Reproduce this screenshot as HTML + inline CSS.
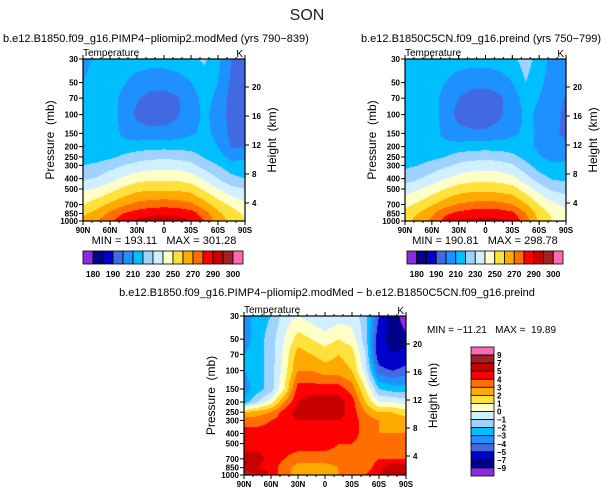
<!DOCTYPE html>
<html><head><meta charset="utf-8">
<style>
html,body{margin:0;padding:0;background:#fff;}
#wrap{position:relative;width:615px;height:496px;overflow:hidden;font-family:"Liberation Sans",sans-serif;}
canvas{position:absolute;}
svg{position:absolute;left:0;top:0;}
text{white-space:pre;}
</style></head>
<body>
<div id="wrap">
<canvas id="c0" width="162" height="162" style="left:83px;top:59px"></canvas>
<canvas id="c1" width="161" height="162" style="left:405px;top:59px"></canvas>
<canvas id="c2" width="162" height="159" style="left:244px;top:316px"></canvas>
<svg id="sv" width="615" height="496"></svg>
</div>
<script>
// ---- data ----
const LATS = ['90N','75N','60N','45N','30N','15N','0','15S','30S','45S','60S','75S','90S'];
const PLEVS = [30,50,70,100,150,200,250,300,400,500,700,850,1000];
const X_TICK_LABELS = ['90N','60N','30N','0','30S','60S','90S'];
const P_TICK_LABELS = [30,50,70,100,150,200,250,300,400,500,700,850,1000];
const Z_TICK_LABELS = [20,16,12,8,4];
const COLORS = ['#8a2be2','#00008b','#0000cd','#4169e1','#1e90ff','#00bfff','#a0d2ff','#d1f0ff','#ffffc8','#ffe13c','#ffaa00','#ff6e00','#ff0000','#c80000','#a02323','#ff69b4'];
const TEMP_LEVELS = [180,185,190,200,210,220,230,240,250,260,270,280,290,295,300];
const DIFF_LEVELS = [-9,-7,-5,-4,-3,-2,-1,0,1,2,3,4,5,7,9];
const TEMP_BAR_LABELS = ['180','190','210','230','250','270','290','300'];
const DIFF_BAR_LABELS = ['9','7','5','4','3','2','1','0','\u22121','\u22122','\u22123','\u22124','\u22125','\u22127','\u22129'];
const MODMED = [
[207,210,213,214,214,209,215,220,228,238,250,258,263],
[212,214,215,215,215,214,216,222,231,241,255,264,270],
[215,215,215,215,215,215,218,226,236,246,262,272,278],
[215,211,207,206,208,214,222,230,242,252,268,280,287],
[215,206,201,198,204,215,226,233,246,257,273,285,292],
[214,204,197,195,203,217,227,236,248,258,275,288,294],
[214,204,196,195,203,217,228,236,248,258,276,289,295],
[215,206,199,199,205,217,227,236,248,258,275,288,294],
[217,210,206,205,209,216,225,233,245,256,272,285,290],
[222,215,213,212,212,214,219,226,238,248,264,274,280],
[212,210,208,206,208,210,214,220,230,240,255,262,265],
[200,198,196,196,197,199,207,214,223,233,248,255,258],
[198,197,196,196,197,200,208,213,220,230,242,248,250]];
const PREIND = [
[212,214,214,214,213,212,214,218,225,235,247,254,257],
[213,214,215,215,214,214,215,220,229,239,252,260,264],
[215,215,215,215,215,214,217,224,234,244,259,268,273],
[215,210,206,205,207,213,220,228,240,250,266,278,284],
[215,205,200,197,203,214,225,232,244,255,271,283,290],
[214,203,196,194,202,216,226,235,246,257,273,286,292],
[214,203,195,194,202,216,227,235,247,257,274,287,293],
[215,205,198,198,204,216,226,235,246,256,273,286,292],
[217,210,205,204,208,215,223,231,243,254,270,283,288],
[225,220,214,212,212,213,217,223,234,245,261,270,276],
[215,212,210,208,209,208,211,215,225,235,250,256,258],
[207,206,205,203,202,203,207,212,219,228,242,248,250],
[206,205,199,198,198,202,208,212,218,226,238,243,244]];
const DIFF = [
[-3.5,-3.5,-3,-3,-3.5,-2.5,2,3.5,4.5,4.5,5.5,5.5,9.5],
[-2.5,-2.5,-2.5,-2.5,-2.5,-1,2.5,3.5,4.5,4.5,5.5,5,7],
[-2,-1.5,-1.5,-1.5,-1.5,0.5,3,4,4.5,4.5,4.5,4.5,4.5],
[-0.5,0,0.3,0.5,1,3,4.5,4.5,4.5,4.5,4,3.5,3.5],
[0,1.5,2.5,3,4.5,5,5.5,5,4.5,4.5,3.5,2.5,2.5],
[-0.5,1,2,3,4.5,5.5,5.5,5,4.5,4.5,3.5,2.5,2],
[-1,0.5,1.5,2.5,4.5,5.5,5.5,5,4.5,4.5,3.5,2.5,2.5],
[-0.5,1,2,2.5,4.5,5.5,5.5,5,4.5,4,3.5,3,3],
[-0.5,0.5,1.5,2,3.5,4.5,4.5,4.5,4.5,4,3.5,3.5,3.5],
[-1.5,-1.5,-1,-0.5,1,2,3,3.5,3.5,3.5,3.5,3.5,4],
[-5,-6,-6,-4.5,-2,0,2,3,3,3.5,4,4.5,5],
[-8,-8,-7,-5,-2.5,0,2,2.5,3,3.5,4,6,7],
[-10,-8.5,-6,-4.5,-2.5,-0.5,1.5,2.5,3,3.5,4,5.5,7]];

// ---- helpers ----
const NS='http://www.w3.org/2000/svg';
const sv=document.getElementById('sv');
function mk(tag,attrs,txt){const e=document.createElementNS(NS,tag);for(const k in attrs)e.setAttribute(k,attrs[k]);if(txt!==undefined)e.textContent=txt;sv.appendChild(e);return e;}
function hex(c){return [parseInt(c.substr(1,2),16),parseInt(c.substr(3,2),16),parseInt(c.substr(5,2),16)];}
const RGB=COLORS.map(hex);
const LP0=Math.log(PLEVS[0]),LP1=Math.log(PLEVS[PLEVS.length-1]);
function yOfP(p,P){return P.y+(Math.log(p)-LP0)/(LP1-LP0)*P.h;}
function xOfLat(i,n,P){return P.x+i/(n-1)*P.w;}
function colorIdx(v,levels){let k=0;while(k<levels.length&&v>=levels[k])k++;return k;}

function drawField(id,grid,levels,P){
  const cv=document.getElementById(id),ctx=cv.getContext('2d');
  const W=cv.width,H=cv.height,img=ctx.createImageData(W,H);
  const nl=grid.length,np=PLEVS.length;
  for(let py=0;py<H;py++){
    const lp=LP0+(py+0.5)/H*(LP1-LP0);
    let k=0;while(k<np-2&&Math.log(PLEVS[k+1])<lp)k++;
    const t=Math.min(1,Math.max(0,(lp-Math.log(PLEVS[k]))/(Math.log(PLEVS[k+1])-Math.log(PLEVS[k]))));
    for(let px=0;px<W;px++){
      const fx=(px+0.5)/W*(nl-1);let i=Math.min(nl-2,Math.floor(fx));const s=fx-i;
      const v=(1-s)*((1-t)*grid[i][k]+t*grid[i][k+1])+s*((1-t)*grid[i+1][k]+t*grid[i+1][k+1]);
      const c=RGB[colorIdx(v,levels)],o=(py*W+px)*4;
      img.data[o]=c[0];img.data[o+1]=c[1];img.data[o+2]=c[2];img.data[o+3]=255;
    }
  }
  ctx.putImageData(img,0,0);
}

function drawAxes(P,pre,z0,zstep){
  let e=mk('rect',{x:P.x,y:P.y,width:P.w,height:P.h,fill:'none',stroke:'#000','stroke-width':1.2});
  
  
  e=mk('text',{x:P.x,y:P.y-3,'font-size':10},'Temperature');
  
  
  e=mk('text',{x:P.x+P.w-2,y:P.y-2,'font-size':10,'text-anchor':'end'},'K');
  
  
  P_TICK_LABELS.forEach(p=>{
    const y=yOfP(p,P);
    let t=mk('line',{x1:P.x-4,x2:P.x,y1:y,y2:y,stroke:'#000'});
    
    
    t=mk('text',{x:P.x-5,y:y+3,'font-size':8,'text-anchor':'end','font-weight':'bold'},String(p));
    
    
  });
  X_TICK_LABELS.forEach((l,i)=>{
    const x=xOfLat(i,X_TICK_LABELS.length,P);
    let t=mk('line',{x1:x,x2:x,y1:P.y+P.h,y2:P.y+P.h+4,stroke:'#000'});
    
    
    t=mk('line',{x1:x,x2:x,y1:P.y-4,y2:P.y,stroke:'#000'});
    
    
    t=mk('text',{x:x,y:P.y+P.h+12,'font-size':8,'text-anchor':'middle','font-weight':'bold'},l);
    
    
  });
  for(let i=0;i<=18;i++){const x=P.x+i/18*P.w;
    let t=mk('line',{x1:x,x2:x,y1:P.y+P.h,y2:P.y+P.h+2,stroke:'#000'});
    
    
    t=mk('line',{x1:x,x2:x,y1:P.y-2,y2:P.y,stroke:'#000'});
    
    }
  Z_TICK_LABELS.forEach((z,i)=>{
    const y=z0+i*zstep;
    let t=mk('line',{x1:P.x+P.w,x2:P.x+P.w+4,y1:y,y2:y,stroke:'#000'});
    
    
    t=mk('text',{x:P.x+P.w+7,y:y+3,'font-size':8,'font-weight':'bold'},String(z));
    
    
  });
  const cy=P.y+P.h/2;
  e=mk('text',{x:0,y:0,'font-size':12,'text-anchor':'middle',transform:`translate(${P.x-29},${cy}) rotate(-90)`},'Pressure  (mb)');
  
  
  e=mk('text',{x:0,y:0,'font-size':12,'text-anchor':'middle',transform:`translate(${P.x+P.w+31},${cy}) rotate(-90)`},'Height  (km)');
  
  
}

// ---- plots ----
const P0={x:83,y:59,w:162,h:162},P1={x:405,y:59,w:161,h:162},P2={x:244,y:316,w:162,h:159};
drawField('c0',MODMED,TEMP_LEVELS,P0);
drawField('c1',PREIND,TEMP_LEVELS,P1);
drawField('c2',DIFF,DIFF_LEVELS,P2);
drawAxes(P0,'modmed',87,29);
drawAxes(P1,'preind',87,29);
drawAxes(P2,'diff',344,28);

let e=mk('text',{x:307,y:20,'font-size':16,'text-anchor':'middle','fill':'#222'},'SON');


e=mk('text',{x:3,y:42,'font-size':11},'b.e12.B1850.f09_g16.PIMP4\u2212pliomip2.modMed (yrs 790\u2212839)');


e=mk('text',{x:361,y:42,'font-size':11},'b.e12.B1850C5CN.f09_g16.preind (yrs 750\u2212799)');


e=mk('text',{x:327,y:296,'font-size':11,'text-anchor':'middle'},'b.e12.B1850.f09_g16.PIMP4\u2212pliomip2.modMed \u2212 b.e12.B1850C5CN.f09_g16.preind');


e=mk('text',{x:164,y:244,'font-size':11,'text-anchor':'middle'},'MIN = 193.11   MAX = 301.28');


e=mk('text',{x:485,y:244,'font-size':11,'text-anchor':'middle'},'MIN = 190.81   MAX = 298.78');


e=mk('text',{x:427,y:333,'font-size':10},'MIN = \u221211.21   MAX =  19.89');



// ---- colorbars ----
function hbar(x0,x1,pre){
  const bw=(x1-x0)/COLORS.length;
  COLORS.forEach((c,i)=>{
    const r=mk('rect',{x:x0+i*bw,y:251,width:bw,height:13,fill:c,stroke:'#000','stroke-width':0.8});
    
    
  });
  TEMP_BAR_LABELS.forEach((l,j)=>{
    const t=mk('text',{x:x0+bw*(2*j+1),y:277,'font-size':8.5,'text-anchor':'middle','font-weight':'bold'},l);
    
    
  });
}
hbar(83,243,'modmed');
hbar(407,563,'preind');
const VB={x:471,y:347,w:23,h:129},vbh=VB.h/COLORS.length;
COLORS.slice().reverse().forEach((c,i)=>{
  const r=mk('rect',{x:VB.x,y:VB.y+i*vbh,width:VB.w,height:vbh,fill:c,stroke:'#000','stroke-width':0.8});
  
  
});
DIFF_BAR_LABELS.forEach((l,k)=>{
  const t=mk('text',{x:VB.x+26,y:VB.y+vbh*(k+1)+3,'font-size':8,'font-weight':'bold'},l);
  
  
});
</script>
</body></html>
